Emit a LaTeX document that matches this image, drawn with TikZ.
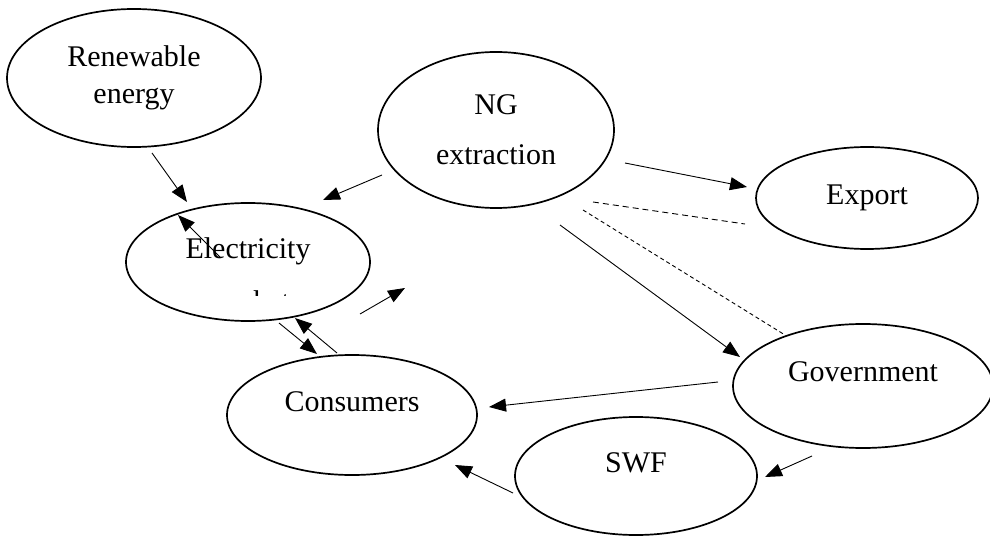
\documentclass[tikz,border=0pt]{standalone}
\usepackage{fontspec}
\setmainfont{Liberation Serif}
\usetikzlibrary{arrows.meta,calc,shapes.geometric}

\begin{document}
\begin{tikzpicture}[x=1pt,y=-1pt,>={Triangle[length=17pt,width=13pt]},
    oval/.style={draw,ellipse,line width=1.7pt,inner sep=0pt,align=center,font=\fontsize{30}{37}\selectfont},
    lbl/.style={font=\fontsize{30}{37}\selectfont},
    flow/.style={->,line width=0.9pt},
    taxline/.style={line width=0.9pt,dash pattern=on 6pt off 4pt},
    rentline/.style={line width=0.9pt,dash pattern=on 4pt off 3pt}]
      \useasboundingbox (0,0) rectangle (990,537);
      % the sectors
      \node[oval,minimum width=254pt,minimum height=138pt] (ren) at (134,78) {Renewable\\energy};
      \node[oval,minimum width=236pt,minimum height=156pt,font=\fontsize{30}{50}\selectfont] (ng) at (496,130) {NG\\extraction};
      \node[oval,minimum width=222pt,minimum height=102pt] (exp) at (867,198) {Export};
      \node[oval,minimum width=244pt,minimum height=118pt] (elec) at (248,262) {};
      \node[lbl,yshift=11pt] (elecText) at (elec) {Electricity};
      \begin{scope}
        \clip ($(elec)+(-60,20)$) rectangle ($(elec)+(60,33)$);
        \node[lbl,anchor=base] (elecMarket) at ($(elec)+(0,49)$) {market};
      \end{scope}
      \node[oval,minimum width=260pt,minimum height=124pt] (gov) at (863,386) {};
      \node[lbl,yshift=14pt] (govText) at (gov) {Government};
      \node[oval,minimum width=250pt,minimum height=120pt] (cons) at (352,415) {};
      \node[lbl,yshift=13pt] (consText) at (cons) {Consumers};
      \node[oval,minimum width=242pt,minimum height=118pt] (swf) at (636,476) {};
      \node[lbl,yshift=13pt] (swfText) at (swf) {SWF};
      % flows
      \draw[flow] ($(ren)+(18,75)$) -- ($(elec)+(-61,-60)$);
      \draw[flow] ($(elec)+(-28,-5)$) -- ($(elec)+(-70,-47)$);
      \draw[flow] ($(ng)+(-114,45)$) -- ($(elec)+(75,-62)$);
      \coordinate (strayEnd) at ($(elec)+(157,26)$);
      \draw[flow] ($(elec)+(112,52)$) -- (strayEnd);
      \draw[flow] ($(elec)+(31,61)$) -- ($(cons)+(-35,-61)$);
      \draw[flow] ($(cons)+(-15,-62)$) -- ($(elec)+(47,56)$);
      \draw[flow] ($(ng)+(129,33)$) -- ($(exp)+(-120,-11)$);
      \draw[taxline] ($(ng)+(97,72)$) -- ($(exp)+(-122,26)$);
      \draw[rentline] ($(ng)+(87,80)$) -- ($(gov)+(-78,-51)$);
      \draw[flow] ($(ng)+(64,95)$) -- ($(gov)+(-123,-29)$);
      \draw[flow] ($(gov)+(-145,-4)$) -- ($(cons)+(137,-8)$);
      \draw[flow] ($(gov)+(-51,70)$) -- ($(swf)+(129,1)$);
      \draw[flow] ($(swf)+(-123,17)$) -- ($(cons)+(103,50)$);
    \end{tikzpicture}
\end{document}
